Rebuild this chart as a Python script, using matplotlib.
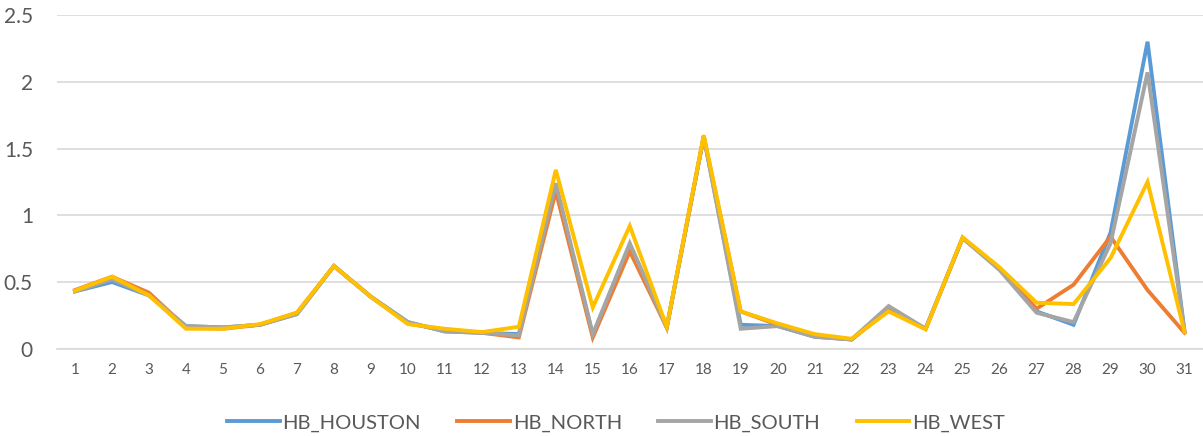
import matplotlib
matplotlib.use("Agg")
import matplotlib.pyplot as plt

days = list(range(1, 32))
hb_houston = [0.43, 0.50, 0.40, 0.17, 0.16, 0.18, 0.26, 0.62, 0.39, 0.20, 0.13, 0.12, 0.11, 1.22, 0.10, 0.78, 0.16, 1.59, 0.18, 0.17, 0.09, 0.07, 0.31, 0.15, 0.83, 0.60, 0.28, 0.18, 0.87, 2.30, 0.13]
hb_north   = [0.44, 0.54, 0.42, 0.16, 0.15, 0.18, 0.27, 0.62, 0.39, 0.19, 0.14, 0.12, 0.085, 1.18, 0.085, 0.73, 0.16, 1.59, 0.28, 0.18, 0.10, 0.07, 0.29, 0.15, 0.83, 0.60, 0.30, 0.48, 0.84, 0.44, 0.12]
hb_south   = [0.43, 0.52, 0.40, 0.17, 0.16, 0.18, 0.26, 0.62, 0.39, 0.20, 0.13, 0.12, 0.10, 1.24, 0.11, 0.79, 0.16, 1.59, 0.15, 0.17, 0.09, 0.07, 0.32, 0.15, 0.83, 0.59, 0.27, 0.20, 0.79, 2.07, 0.13]
hb_west    = [0.435, 0.54, 0.40, 0.15, 0.15, 0.185, 0.27, 0.62, 0.39, 0.185, 0.15, 0.125, 0.165, 1.34, 0.31, 0.92, 0.165, 1.60, 0.28, 0.19, 0.11, 0.075, 0.28, 0.145, 0.835, 0.61, 0.345, 0.335, 0.68, 1.25, 0.125]

series = [("HB_HOUSTON", hb_houston, "#5B9BD5"),
          ("HB_NORTH", hb_north, "#ED7D31"),
          ("HB_SOUTH", hb_south, "#A5A5A5"),
          ("HB_WEST", hb_west, "#FFC000")]

plt.rcParams['font.family'] = ['Lato', 'DejaVu Sans']

fig = plt.figure(figsize=(12.03, 4.36), dpi=100)
ax = fig.add_axes([0.047, 0.2, 0.953, 0.7656])

for name, vals, col in series:
    ax.plot(days, vals, color=col, lw=2.8, label=name, solid_joinstyle='miter')

ax.set_xlim(0.5, 31.5)
ax.set_ylim(0, 2.5)
ax.set_yticks([0, 0.5, 1, 1.5, 2, 2.5])
ax.set_yticklabels(["0", "0.5", "1", "1.5", "2", "2.5"])
ax.set_xticks(days)
ax.set_xticklabels([str(d) for d in days])
ax.grid(axis='y', color='#D9D9D9', lw=1.2)
ax.set_axisbelow(True)
for s in ['top', 'right', 'left']:
    ax.spines[s].set_visible(False)
ax.spines['bottom'].set_color('#D9D9D9')
ax.spines['bottom'].set_linewidth(1.2)
ax.tick_params(axis='y', length=0, labelsize=15, labelcolor='#595959', pad=17)
ax.tick_params(axis='x', length=0, labelsize=11, labelcolor='#595959', pad=10)

leg = fig.legend(loc='center', bbox_to_anchor=(0.512, 0.03), ncol=4, frameon=False,
                 fontsize=14.5, handlelength=2.6, columnspacing=1.8, handletextpad=0.15)
for t in leg.get_texts():
    t.set_color('#595959')

fig.savefig("out.png", dpi=100)
